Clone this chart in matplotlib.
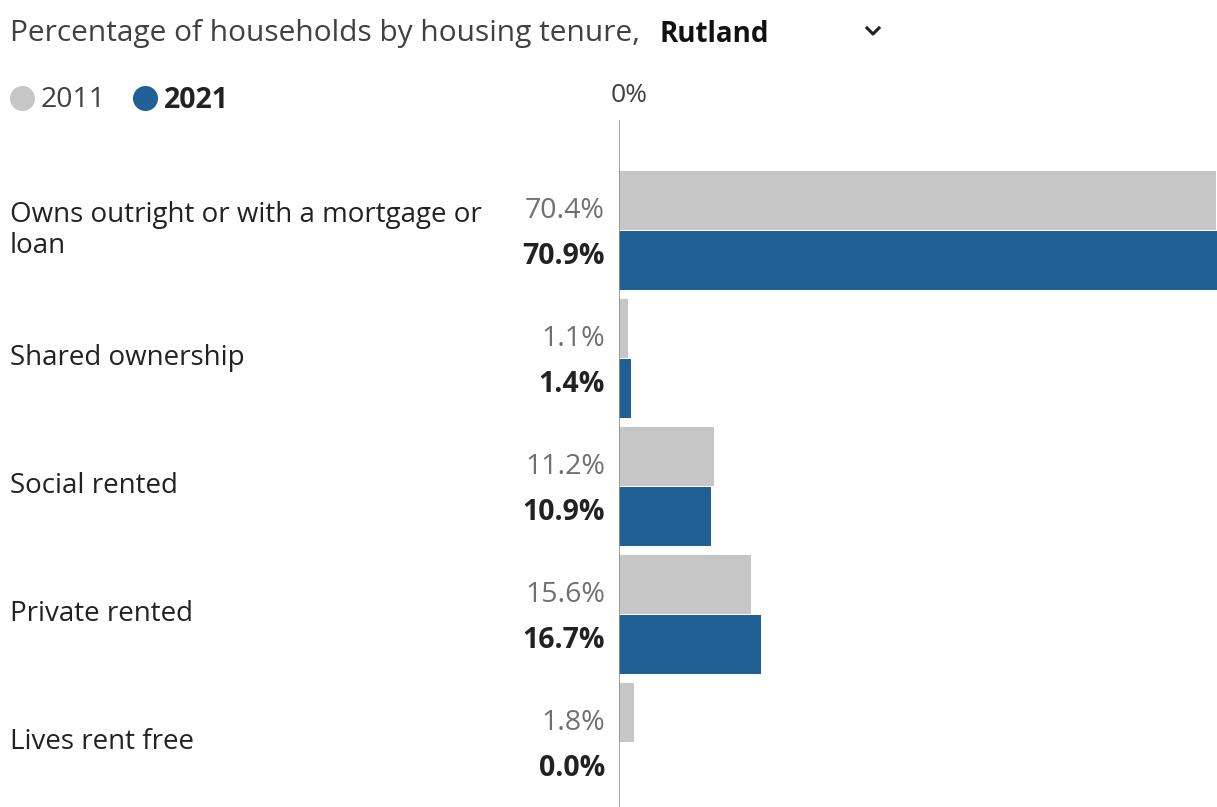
import matplotlib.pyplot as plt
from matplotlib.lines import Line2D
import matplotlib.transforms as mtransforms
import numpy as np

plt.rcParams['font.family'] = ['Open Sans', 'DejaVu Sans']

# data
categories = ['Owns outright or with a mortgage or\nloan', 'Shared ownership',
              'Social rented', 'Private rented', 'Lives rent free']
values_2011 = [70.4, 1.1, 11.2, 15.6, 1.8]
values_2021 = [70.9, 1.4, 10.9, 16.7, 0.0]
area = 'Rutland'

grey = '#c6c6c6'
blue = '#206095'
W, H = 1217, 807

fig = plt.figure(figsize=(W / 100, H / 100), dpi=100)

# axes: from the 0% line to the right edge
ax = fig.add_axes([619 / W, 0, 1 - 619 / W, (H - 120) / H])
y = np.arange(len(categories))
bh = 0.46
ax.barh(y - 0.235, values_2011, height=bh, color=grey)
ax.barh(y + 0.235, values_2021, height=bh, color=blue)
ax.set_xlim(0, 70.5)
ax.set_ylim(4.504, -0.863)
ax.axis('off')
ax.axvline(0, color='#909090', lw=1.2)

# value labels
for i in range(len(categories)):
    ax.annotate(f'{values_2011[i]:.1f}%', xy=(0, y[i] - 0.235), xytext=(-14, -11),
                textcoords='offset pixels', ha='right', va='center',
                fontsize=20.5, color='#707071')
    ax.annotate(f'{values_2021[i]:.1f}%', xy=(0, y[i] + 0.235), xytext=(-14, 4),
                textcoords='offset pixels', ha='right', va='center',
                fontsize=20.5, color='#222222', fontweight='bold')

# category labels
trans = mtransforms.blended_transform_factory(fig.transFigure, ax.transData)
for i, c in enumerate(categories):
    ax.text(10 / W, y[i], c, transform=trans, ha='left', va='center',
            fontsize=20, color='#222222', linespacing=1.17)

# title
fig.text(10 / W, 1 - 34 / H, 'Percentage of households by housing tenure,',
         ha='left', va='center', fontsize=21.5, color='#414042')
fig.text(660 / W, 1 - 34 / H, area, ha='left', va='center', fontsize=20,
         fontweight='bold', color='#111111')
# dropdown chevron
fig.add_artist(Line2D([867 / W, 873 / W, 879 / W],
                      [1 - 28 / H, 1 - 34 / H, 1 - 28 / H],
                      transform=fig.transFigure, color='#222222', lw=2.2))

# legend
fig.add_artist(Line2D([22 / W], [1 - 98 / H], marker='o', markersize=17,
                      color=grey, transform=fig.transFigure))
fig.text(41 / W, 1 - 100 / H, '2011', ha='left', va='center', fontsize=20.5,
         color='#414042')
fig.add_artist(Line2D([145 / W], [1 - 98 / H], marker='o', markersize=17,
                      color=blue, transform=fig.transFigure))
fig.text(164 / W, 1 - 100 / H, '2021', ha='left', va='center', fontsize=20.5,
         color='#222222', fontweight='bold')
fig.text(629 / W, 1 - 96 / H, '0%', ha='center', va='center', fontsize=19,
         color='#414042')

fig.savefig('out.png', dpi=100)
